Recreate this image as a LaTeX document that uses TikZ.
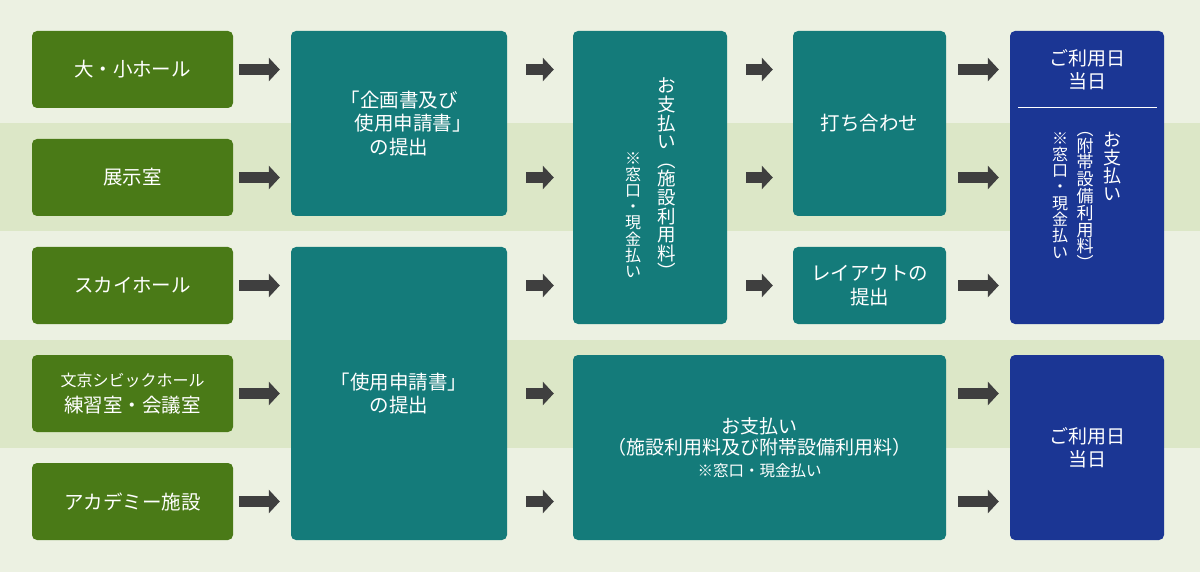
\documentclass[tikz,border=0pt]{standalone}
\usepackage{fontspec}
\setmainfont{Noto Sans CJK JP}
\usetikzlibrary{arrows.meta}
\setlength{\lineskiplimit}{-30pt}
\definecolor{bgc}{RGB}{236,241,226}
\definecolor{stripec}{RGB}{220,231,199}
\definecolor{greenc}{RGB}{74,122,23}
\definecolor{tealc}{RGB}{20,123,122}
\definecolor{navyc}{RGB}{27,54,148}
\definecolor{arrowc}{RGB}{63,63,63}
\newcommand\fsz[2]{\fontsize{#1}{#2}\selectfont}
\begin{document}
\begin{tikzpicture}[x=1pt,y=-1pt,
  basebox/.style={rounded corners=5pt, text=white, align=center, inner sep=0pt,
    font=\fsz{19.5}{23.5}},
  gbox/.style={basebox, fill=greenc, minimum width=201pt, minimum height=77pt},
  tbox/.style={basebox, fill=tealc},
  nbox/.style={basebox, fill=navyc},
  vtext/.style={text=white, align=center, inner sep=0pt, anchor=north},
  arr/.style={draw=arrowc, line width=11pt, -{Triangle[length=11pt,width=23pt]}},
  a1/.style={arr, shorten <=6pt, shorten >=11pt},
  a2/.style={arr, shorten <=19pt, shorten >=19pt},
  a3/.style={arr, shorten <=19pt, shorten >=20pt},
  a4/.style={arr, shorten <=12pt, shorten >=11pt}]
\useasboundingbox (0,0) rectangle (1200,572);
\fill[bgc] (0,0) rectangle (1200,572);
\fill[stripec] (0,123.5) rectangle (1200,231.5);
\fill[stripec] (0,339.5) rectangle (1200,447.5);

\coordinate (r1) at (0,69.5);
\coordinate (r2) at (0,177.5);
\coordinate (r3) at (0,285.5);
\coordinate (r4) at (0,393.5);
\coordinate (r5) at (0,501.5);

% column 1
\node[gbox] (h1) at (132.5,69.5) {大・小ホール};
\node[gbox] (h2) at (132.5,177.5) {展示室};
\node[gbox] (h3) at (132.5,285.5) {スカイホール};
\node[gbox, font=\fsz{19.5}{26}] (h4) at (132.5,393.5) {{\fsz{16}{26}文京シビックホール}\\練習室・会議室};
\node[gbox] (h5) at (132.5,501.5) {アカデミー施設};

% column 2
\node[tbox, minimum width=216pt, minimum height=185pt] (A) at (399,123.5)
  {「企画書及び\\\hspace*{28pt}使用申請書」\\の提出};
\node[tbox, font=\fsz{19.5}{23}, minimum width=216pt, minimum height=293pt] (B) at (399,393.5)
  {「使用申請書」\\の提出};

% column 3
\node[tbox, minimum width=154pt, minimum height=293pt] (P1) at (650,177.5) {};
\node[vtext, font=\fsz{18.5}{18.6}] (p1a) at (667,78)
  {お\\支\\払\\い\\︵\\施\\設\\利\\用\\料\\︶};
\node[vtext, font=\fsz{16}{16.2}] (p1b) at (633,152)
  {※\\窓\\口\\・\\現\\金\\払\\い};

% column 4
\node[tbox, minimum width=153pt, minimum height=185pt] (M) at (869.5,123.5) {打ち合わせ};
\node[tbox, font=\fsz{19.5}{24}, minimum width=153pt, minimum height=77pt] (L) at (869.5,285.5)
  {レイアウトの\\提出};

% wide bottom box
\node[tbox, font=\fsz{19}{21.5}, minimum width=373pt, minimum height=185pt] (P2) at (759.5,447.5)
  {お支払い\\（施設利用料及び附帯設備利用料）\\{\fsz{15.5}{21.5}※窓口・現金払い}};

% column 5
\node[nbox, minimum width=154pt, minimum height=293pt] (D1) at (1087,177.5) {};
\node[text=white, align=center, inner sep=0pt, font=\fsz{19}{23}] (d1t) at (1087,69.5) {ご利用日\\当日};
\coordinate (dl1) at (1018,107.5);
\coordinate (dl2) at (1157,107.5);
\draw[white, line width=1.2pt] (dl1) -- (dl2);
\node[vtext, font=\fsz{18}{18}] (d1a) at (1112,132) {お\\支\\払\\い};
\node[vtext, font=\fsz{17}{16.8}] (d1b) at (1085,132) {︵\\附\\帯\\設\\備\\利\\用\\料\\︶};
\node[vtext, font=\fsz{16}{16.3}] (d1c) at (1060,132) {※\\窓\\口\\・\\現\\金\\払\\い};
\node[nbox, font=\fsz{19}{23}, minimum width=154pt, minimum height=185pt] (D2) at (1087,447.5)
  {ご利用日\\当日};

% arrows column 1 -> 2
\draw[a1] (h1.east) -- (A.west |- h1.east);
\draw[a1] (h2.east) -- (A.west |- h2.east);
\draw[a1] (h3.east) -- (B.west |- h3.east);
\draw[a1] (h4.east) -- (B.west |- h4.east);
\draw[a1] (h5.east) -- (B.west |- h5.east);
% column 2 -> 3
\draw[a2] (A.east |- r1) -- (P1.west |- r1);
\draw[a2] (A.east |- r2) -- (P1.west |- r2);
\draw[a2] (B.east |- r3) -- (P1.west |- r3);
\draw[a2] (B.east |- r4) -- (P2.west |- r4);
\draw[a2] (B.east |- r5) -- (P2.west |- r5);
% column 3 -> 4
\draw[a3] (P1.east |- r1) -- (M.west |- r1);
\draw[a3] (P1.east |- r2) -- (M.west |- r2);
\draw[a3] (P1.east |- r3) -- (L.west |- r3);
% column 4 -> 5
\draw[a4] (M.east |- r1) -- (D1.west |- r1);
\draw[a4] (M.east |- r2) -- (D1.west |- r2);
\draw[a4] (L.east |- r3) -- (D1.west |- r3);
\draw[a4] (P2.east |- r4) -- (D2.west |- r4);
\draw[a4] (P2.east |- r5) -- (D2.west |- r5);
\end{tikzpicture}
\end{document}
